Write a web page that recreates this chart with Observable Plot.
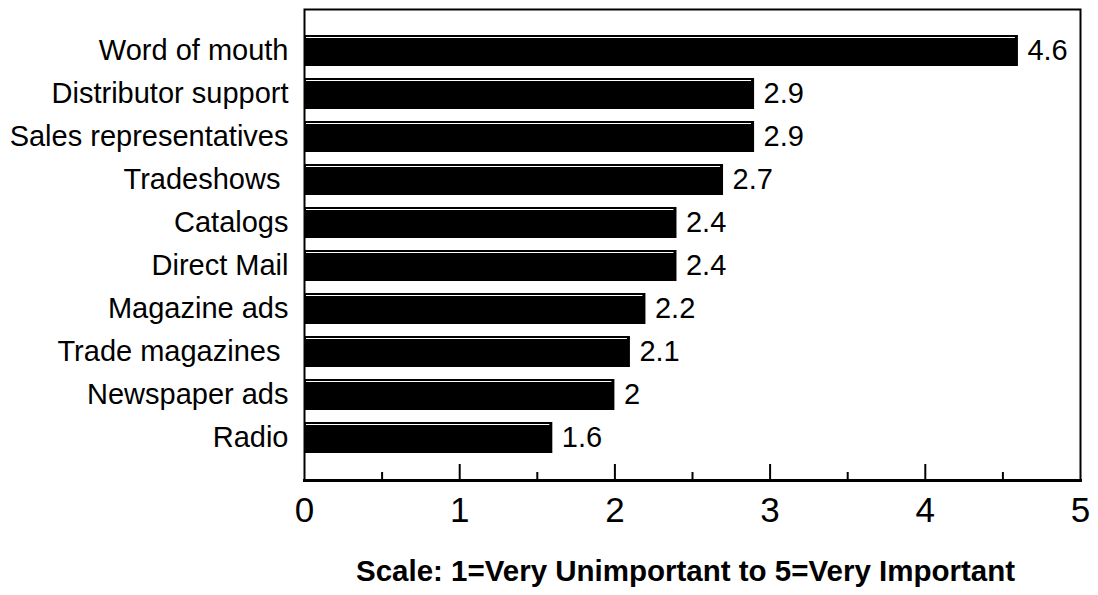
<!DOCTYPE html>
<html><head><meta charset="utf-8">
<script src="https://cdn.jsdelivr.net/npm/d3@7"></script>
<script src="https://cdn.jsdelivr.net/npm/@observablehq/plot@0.6"></script>
<style>body{margin:0;background:#fff;font-family:"Liberation Sans",Arial,sans-serif}</style>
</head><body><div id="chart"></div>
<script>
const categories = ["Word of mouth","Distributor support","Sales representatives","Tradeshows\u00a0","Catalogs","Direct Mail","Magazine ads","Trade magazines\u00a0","Newspaper ads","Radio"];
const values = [4.6, 2.9, 2.9, 2.7, 2.4, 2.4, 2.2, 2.1, 2, 1.6];
const xTicks = [0, 1, 2, 3, 4, 5];
const minorTicks = [0.5, 1.5, 2.5, 3.5, 4.5];
const caption = "Scale: 1=Very Unimportant to 5=Very Important";

const data = categories.map((c, i) => ({category: c, value: values[i]}));
const W = 1098, H = 595, mt = 9, mb = 115, ml = 304, mr = 18;
const frameH = H - mt - mb;
const paddingInner = 0.273, paddingOuter = 0.49;
const step = frameH / (categories.length - paddingInner + 2 * paddingOuter);
const bw = step * (1 - paddingInner);

const chart = Plot.plot({
  width: W, height: H,
  marginTop: mt, marginBottom: mb, marginLeft: ml, marginRight: mr,
  style: {fontFamily: '"Liberation Sans", Arial, sans-serif', background: "white", color: "black", overflow: "visible"},
  x: {domain: [0, 5]},
  y: {domain: categories, paddingInner, paddingOuter, align: 0.5},
  marks: [
    Plot.barX(data, {x: "value", y: "category", fill: "black"}),
    Plot.ruleY(data, {y: "category", x1: 0, x2: "value", stroke: "white", strokeWidth: 1, dy: -bw / 2 + 2.5, insetLeft: 2, insetRight: 3}),
    Plot.ruleX(data, {x: () => 0, y: "category", stroke: "white", strokeWidth: 1, dx: 2.5, insetTop: 2.5, insetBottom: 2}),
    Plot.ruleX(xTicks.slice(1, -1), {x: d => d, stroke: "black", strokeWidth: 2, insetTop: frameH - 16}),
    Plot.ruleX(minorTicks, {x: d => d, stroke: "black", strokeWidth: 2, insetTop: frameH - 8}),
    Plot.frame({stroke: "black", strokeWidth: 2}),
    Plot.frame({anchor: "bottom", stroke: "black", strokeWidth: 3}),
    Plot.axisX({ticks: xTicks, tickSize: 0, tickPadding: 17, fontSize: 35, label: null, tickFormat: d => String(d)}),
    Plot.axisY({tickSize: 0, tickPadding: 16, fontSize: 29, label: null}),
    Plot.text(data, {x: "value", y: "category", text: d => String(d.value), textAnchor: "start", dx: 9, fontSize: 29, fill: "black"}),
    Plot.text([caption], {frameAnchor: "bottom", dy: 100, dx: -7, text: d => d, fontWeight: "bold", fontSize: 29.5, fill: "black"})
  ]
});
document.getElementById("chart").appendChild(chart);
</script>
</body></html>
